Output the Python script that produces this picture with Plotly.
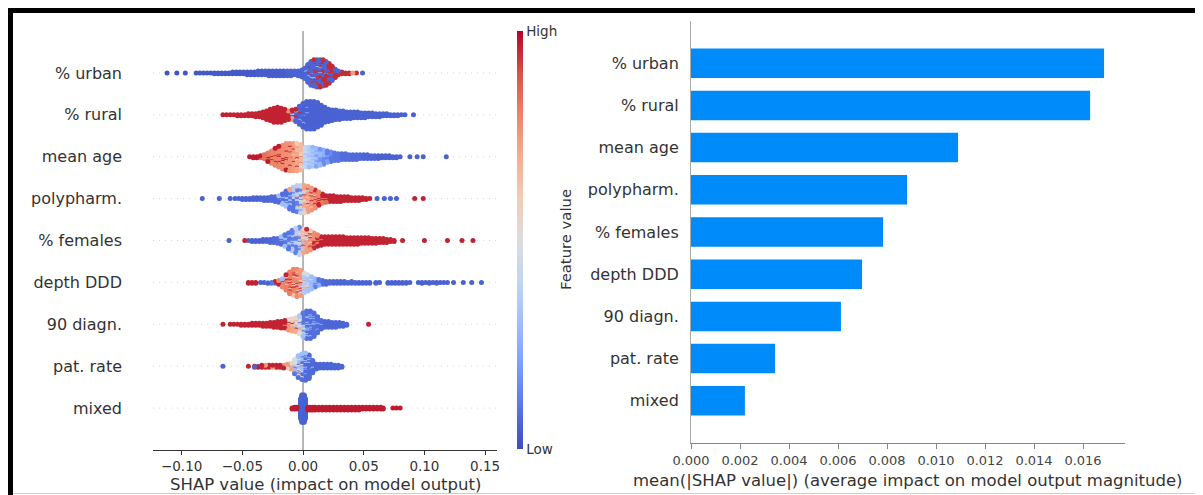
import numpy as np
import plotly.graph_objects as go

# ---------------- data ----------------
features = ["% urban", "% rural", "mean age", "polypharm.", "% females",
            "depth DDD", "90 diagn.", "pat. rate", "mixed"]

mean_abs_shap = [0.01686, 0.01629, 0.0109, 0.00882, 0.00784,
                 0.00698, 0.00612, 0.00343, 0.0022]

shap_tickvals = [-0.10, -0.05, 0.0, 0.05, 0.10, 0.15]
shap_ticktext = ["\u22120.10", "\u22120.05", "0.00", "0.05", "0.10", "0.15"]
bar_tickvals = [0.0, 0.002, 0.004, 0.006, 0.008, 0.010, 0.012, 0.014, 0.016]
bar_ticktext = ["0.000", "0.002", "0.004", "0.006", "0.008", "0.010", "0.012", "0.014", "0.016"]

# beeswarm samples: (SHAP value, feature value 0..1, number of samples)
urban = [
    (-0.112, 0.02, 1), (-0.104, 0.02, 1), (-0.097, 0.02, 1),
    (-0.088, 0.03, 1), (-0.085, 0.03, 1), (-0.082, 0.03, 1), (-0.079, 0.03, 1), (-0.076, 0.03, 1),
    (-0.073, 0.03, 2), (-0.070, 0.03, 2), (-0.067, 0.03, 2), (-0.064, 0.03, 2), (-0.061, 0.03, 2),
    (-0.058, 0.03, 3), (-0.055, 0.03, 3), (-0.052, 0.03, 3), (-0.049, 0.03, 3),
    (-0.046, 0.03, 4), (-0.043, 0.03, 4), (-0.040, 0.03, 4),
    (-0.037, 0.04, 5), (-0.034, 0.04, 5), (-0.031, 0.04, 5),
    (-0.028, 0.04, 6), (-0.025, 0.04, 6), (-0.022, 0.04, 6),
    (-0.019, 0.04, 6), (-0.016, 0.04, 6), (-0.013, 0.05, 6), (-0.010, 0.05, 6),
    (-0.007, 0.05, 5), (-0.004, 0.05, 5), (-0.004, 0.2, 1), (-0.001, 0.05, 7), (-0.001, 0.25, 1),
    (0.0015, 0.06, 10), (0.0015, 0.95, 1), (0.0015, 0.3, 1),
    (0.004, 0.06, 16), (0.004, 0.95, 2), (0.004, 0.3, 2),
    (0.0065, 0.06, 20), (0.0065, 0.95, 4), (0.0065, 0.3, 2),
    (0.009, 0.06, 21), (0.009, 0.95, 6), (0.009, 0.3, 2),
    (0.0115, 0.06, 20), (0.0115, 0.95, 8), (0.0115, 0.3, 2),
    (0.014, 0.06, 18), (0.014, 0.95, 10), (0.014, 0.3, 2),
    (0.0165, 0.06, 16), (0.0165, 0.95, 12), (0.0165, 0.7, 1),
    (0.019, 0.06, 13), (0.019, 0.95, 12), (0.019, 0.3, 1),
    (0.0215, 0.06, 10), (0.0215, 0.95, 12),
    (0.024, 0.06, 6), (0.024, 0.95, 10),
    (0.0265, 0.06, 3), (0.0265, 0.95, 7),
    (0.029, 0.95, 4), (0.029, 0.06, 1),
    (0.032, 0.95, 3), (0.035, 0.95, 2), (0.038, 0.95, 2), (0.041, 0.75, 1), (0.044, 0.95, 1),
    (0.049, 0.05, 1),
]

rural = [
    (-0.066, 0.96, 1), (-0.063, 0.96, 1), (-0.060, 0.96, 1), (-0.057, 0.96, 1),
    (-0.054, 0.96, 2), (-0.051, 0.96, 2), (-0.048, 0.96, 2),
    (-0.045, 0.96, 3), (-0.042, 0.96, 3), (-0.039, 0.96, 4), (-0.036, 0.96, 5),
    (-0.033, 0.96, 7), (-0.030, 0.96, 10), (-0.027, 0.96, 13), (-0.024, 0.96, 16),
    (-0.021, 0.96, 17), (-0.018, 0.96, 16), (-0.015, 0.96, 13),
    (-0.012, 0.96, 8), (-0.012, 0.78, 2),
    (-0.009, 0.96, 5), (-0.009, 0.75, 3), (-0.009, 0.3, 3),
    (-0.006, 0.96, 3), (-0.006, 0.72, 2), (-0.006, 0.06, 9),
    (-0.003, 0.06, 17), (-0.003, 0.96, 2), (-0.003, 0.3, 1),
    (0.000, 0.05, 24), (0.000, 0.3, 2), (0.003, 0.05, 28), (0.003, 0.25, 2),
    (0.006, 0.05, 30), (0.009, 0.05, 30), (0.012, 0.05, 27),
    (0.015, 0.05, 22), (0.018, 0.05, 17), (0.021, 0.05, 14), (0.024, 0.05, 12),
    (0.027, 0.05, 11), (0.030, 0.05, 10), (0.033, 0.05, 9), (0.036, 0.05, 8),
    (0.039, 0.05, 8), (0.042, 0.05, 7), (0.045, 0.05, 7), (0.048, 0.05, 6),
    (0.051, 0.05, 6), (0.054, 0.05, 5), (0.057, 0.05, 5), (0.060, 0.05, 4),
    (0.063, 0.05, 4), (0.066, 0.05, 3), (0.069, 0.05, 3), (0.072, 0.05, 2),
    (0.075, 0.05, 2), (0.078, 0.05, 2), (0.081, 0.05, 1), (0.084, 0.05, 1), (0.091, 0.05, 1),
]

mean_age = [
    (-0.044, 0.97, 1), (-0.041, 0.97, 2), (-0.038, 0.97, 2), (-0.035, 0.97, 2), (-0.035, 0.85, 1),
    (-0.032, 0.84, 4), (-0.032, 0.97, 1),
    (-0.029, 0.82, 7), (-0.029, 0.97, 3),
    (-0.026, 0.8, 11), (-0.026, 0.97, 3),
    (-0.023, 0.8, 15), (-0.023, 0.97, 4),
    (-0.020, 0.79, 19), (-0.020, 0.97, 4),
    (-0.017, 0.78, 22), (-0.017, 0.97, 4),
    (-0.014, 0.77, 25), (-0.014, 0.97, 4),
    (-0.011, 0.76, 26), (-0.011, 0.97, 4),
    (-0.008, 0.74, 26), (-0.008, 0.95, 3), (-0.008, 0.6, 1),
    (-0.005, 0.72, 24), (-0.005, 0.6, 4), (-0.005, 0.95, 2),
    (-0.002, 0.66, 18), (-0.002, 0.55, 8), (-0.002, 0.8, 2),
    (0.002, 0.42, 14), (0.002, 0.35, 8),
    (0.005, 0.38, 14), (0.005, 0.3, 8),
    (0.008, 0.35, 13), (0.008, 0.28, 8),
    (0.011, 0.3, 12), (0.011, 0.22, 8),
    (0.014, 0.28, 10), (0.014, 0.18, 8),
    (0.017, 0.25, 8), (0.017, 0.15, 8),
    (0.020, 0.2, 6), (0.020, 0.12, 7),
    (0.023, 0.15, 5), (0.023, 0.1, 6),
    (0.026, 0.1, 9), (0.029, 0.1, 8), (0.032, 0.08, 7), (0.035, 0.08, 7),
    (0.038, 0.08, 6), (0.041, 0.07, 6), (0.044, 0.07, 6), (0.047, 0.07, 5),
    (0.050, 0.06, 5), (0.053, 0.06, 5), (0.056, 0.06, 4), (0.059, 0.06, 4),
    (0.062, 0.05, 4), (0.065, 0.05, 3), (0.068, 0.05, 3), (0.071, 0.05, 3),
    (0.074, 0.05, 2), (0.077, 0.05, 2), (0.080, 0.05, 1),
    (0.088, 0.05, 1), (0.094, 0.05, 1), (0.099, 0.05, 1), (0.118, 0.05, 1),
]

polypharm = [
    (-0.083, 0.05, 1), (-0.069, 0.05, 1), (-0.060, 0.05, 1),
    (-0.056, 0.05, 1), (-0.053, 0.05, 1), (-0.050, 0.05, 2), (-0.047, 0.05, 2), (-0.044, 0.05, 2),
    (-0.041, 0.05, 3), (-0.038, 0.05, 3), (-0.035, 0.06, 3), (-0.032, 0.06, 4), (-0.029, 0.06, 4),
    (-0.026, 0.07, 5), (-0.023, 0.07, 6),
    (-0.020, 0.07, 6), (-0.020, 0.3, 2),
    (-0.017, 0.08, 8), (-0.017, 0.3, 4),
    (-0.014, 0.08, 11), (-0.014, 0.3, 5), (-0.014, 0.72, 1),
    (-0.011, 0.1, 13), (-0.011, 0.32, 8), (-0.011, 0.72, 1),
    (-0.008, 0.1, 14), (-0.008, 0.35, 10), (-0.008, 0.72, 2),
    (-0.005, 0.12, 14), (-0.005, 0.38, 12), (-0.005, 0.7, 3),
    (-0.002, 0.15, 12), (-0.002, 0.4, 14), (-0.002, 0.55, 4),
    (0.001, 0.72, 16), (0.001, 0.58, 8), (0.001, 0.35, 4), (0.001, 0.95, 2),
    (0.004, 0.74, 18), (0.004, 0.58, 5), (0.004, 0.95, 3), (0.004, 0.35, 2),
    (0.007, 0.76, 17), (0.007, 0.95, 4), (0.007, 0.58, 3),
    (0.010, 0.78, 14), (0.010, 0.95, 5), (0.010, 0.58, 1),
    (0.013, 0.8, 10), (0.013, 0.96, 5),
    (0.016, 0.82, 5), (0.016, 0.96, 6),
    (0.019, 0.96, 6), (0.019, 0.84, 2),
    (0.022, 0.96, 7), (0.025, 0.96, 7), (0.028, 0.96, 6), (0.031, 0.96, 5), (0.031, 0.05, 1),
    (0.034, 0.96, 5), (0.037, 0.96, 5), (0.040, 0.96, 4), (0.043, 0.96, 4),
    (0.046, 0.96, 3), (0.046, 0.05, 1), (0.049, 0.96, 3), (0.052, 0.96, 2), (0.055, 0.96, 1),
    (0.061, 0.05, 1), (0.067, 0.05, 1), (0.072, 0.05, 1), (0.077, 0.05, 1),
    (0.092, 0.96, 1), (0.099, 0.96, 1),
]

females = [
    (-0.061, 0.05, 1), (-0.048, 0.96, 1),
    (-0.045, 0.05, 1), (-0.042, 0.05, 2), (-0.039, 0.05, 2), (-0.036, 0.05, 2),
    (-0.033, 0.05, 3), (-0.030, 0.06, 3), (-0.027, 0.06, 4), (-0.024, 0.07, 5), (-0.021, 0.08, 6),
    (-0.018, 0.08, 7), (-0.018, 0.3, 2),
    (-0.015, 0.1, 9), (-0.015, 0.3, 4),
    (-0.012, 0.1, 12), (-0.012, 0.32, 6),
    (-0.009, 0.12, 14), (-0.009, 0.35, 9),
    (-0.006, 0.12, 14), (-0.006, 0.38, 11), (-0.006, 0.7, 2),
    (-0.003, 0.15, 12), (-0.003, 0.4, 13), (-0.003, 0.55, 3), (-0.003, 0.72, 2),
    (0.000, 0.58, 8), (0.000, 0.72, 10), (0.000, 0.35, 6), (0.000, 0.95, 2),
    (0.003, 0.74, 14), (0.003, 0.58, 6), (0.003, 0.35, 3), (0.003, 0.95, 2),
    (0.006, 0.76, 14), (0.006, 0.95, 4), (0.006, 0.58, 3),
    (0.009, 0.78, 10), (0.009, 0.95, 6), (0.009, 0.58, 1),
    (0.012, 0.8, 6), (0.012, 0.96, 7),
    (0.015, 0.96, 8), (0.015, 0.82, 2),
    (0.018, 0.96, 9), (0.021, 0.96, 9), (0.024, 0.96, 9), (0.027, 0.96, 9),
    (0.030, 0.96, 9), (0.033, 0.96, 9), (0.036, 0.96, 8), (0.039, 0.96, 8),
    (0.042, 0.96, 8), (0.045, 0.96, 8), (0.048, 0.96, 7), (0.051, 0.96, 7),
    (0.054, 0.96, 7), (0.057, 0.96, 6), (0.060, 0.96, 6), (0.063, 0.96, 5),
    (0.066, 0.96, 5), (0.069, 0.96, 4), (0.072, 0.96, 3), (0.075, 0.96, 2),
    (0.082, 0.96, 1), (0.100, 0.96, 1), (0.119, 0.96, 1), (0.131, 0.96, 1), (0.140, 0.96, 1),
]

depth_ddd = [
    (-0.045, 0.96, 2), (-0.042, 0.96, 2), (-0.039, 0.96, 2),
    (-0.035, 0.05, 1), (-0.032, 0.05, 1), (-0.029, 0.05, 1), (-0.029, 0.3, 1), (-0.026, 0.1, 2),
    (-0.023, 0.1, 2), (-0.023, 0.96, 1),
    (-0.020, 0.78, 2), (-0.020, 0.1, 2), (-0.020, 0.96, 1),
    (-0.017, 0.8, 6), (-0.017, 0.96, 2), (-0.017, 0.3, 2),
    (-0.014, 0.81, 12), (-0.014, 0.96, 3), (-0.014, 0.6, 2),
    (-0.011, 0.81, 17), (-0.011, 0.96, 4), (-0.011, 0.6, 3),
    (-0.008, 0.8, 20), (-0.008, 0.96, 5), (-0.008, 0.6, 4),
    (-0.005, 0.79, 20), (-0.005, 0.96, 5), (-0.005, 0.6, 5),
    (-0.002, 0.75, 16), (-0.002, 0.58, 7), (-0.002, 0.96, 3), (-0.002, 0.35, 2),
    (0.001, 0.35, 12), (0.001, 0.48, 6), (0.001, 0.74, 4),
    (0.004, 0.32, 12), (0.004, 0.48, 4), (0.004, 0.74, 2),
    (0.007, 0.3, 11), (0.007, 0.48, 2), (0.007, 0.74, 1),
    (0.010, 0.28, 8), (0.010, 0.12, 2),
    (0.013, 0.25, 4), (0.013, 0.1, 3),
    (0.016, 0.08, 4), (0.016, 0.28, 1),
    (0.019, 0.07, 4), (0.022, 0.07, 3), (0.025, 0.06, 3), (0.028, 0.06, 3),
    (0.031, 0.06, 3), (0.034, 0.06, 3), (0.037, 0.06, 2), (0.040, 0.06, 3),
    (0.043, 0.06, 2), (0.046, 0.05, 2), (0.049, 0.05, 2), (0.052, 0.05, 2),
    (0.055, 0.05, 2), (0.060, 0.05, 2), (0.063, 0.05, 1),
    (0.070, 0.05, 2), (0.073, 0.05, 2), (0.076, 0.05, 2), (0.079, 0.05, 2),
    (0.082, 0.05, 2), (0.085, 0.05, 2), (0.088, 0.05, 1),
    (0.095, 0.05, 1), (0.098, 0.05, 2), (0.101, 0.05, 1), (0.104, 0.05, 2),
    (0.107, 0.05, 1), (0.110, 0.05, 2), (0.113, 0.05, 1), (0.116, 0.05, 1),
    (0.119, 0.05, 1), (0.124, 0.05, 1),
    (0.132, 0.05, 1), (0.139, 0.05, 1), (0.147, 0.05, 1),
]

diagn_90 = [
    (-0.066, 0.96, 1), (-0.060, 0.96, 1), (-0.057, 0.96, 1), (-0.054, 0.96, 1),
    (-0.051, 0.96, 2), (-0.048, 0.96, 2), (-0.045, 0.96, 2), (-0.042, 0.96, 3),
    (-0.039, 0.96, 3), (-0.036, 0.96, 3), (-0.033, 0.96, 4), (-0.030, 0.96, 4),
    (-0.027, 0.96, 5), (-0.024, 0.96, 6), (-0.021, 0.96, 7),
    (-0.018, 0.96, 7), (-0.018, 0.8, 1),
    (-0.015, 0.96, 6), (-0.015, 0.78, 3),
    (-0.012, 0.76, 6), (-0.012, 0.96, 3), (-0.012, 0.55, 3),
    (-0.009, 0.72, 6), (-0.009, 0.55, 5), (-0.009, 0.96, 2), (-0.009, 0.35, 1),
    (-0.006, 0.55, 7), (-0.006, 0.7, 4), (-0.006, 0.35, 4), (-0.006, 0.96, 1),
    (-0.003, 0.5, 8), (-0.003, 0.35, 7), (-0.003, 0.7, 3), (-0.003, 0.12, 2),
    (0.000, 0.1, 14), (0.000, 0.3, 8), (0.000, 0.5, 4),
    (0.003, 0.08, 20), (0.003, 0.3, 10),
    (0.006, 0.08, 22), (0.006, 0.28, 8),
    (0.009, 0.08, 20), (0.009, 0.25, 6),
    (0.012, 0.08, 15), (0.012, 0.25, 3),
    (0.015, 0.07, 9), (0.015, 0.25, 1),
    (0.018, 0.06, 7), (0.021, 0.06, 7), (0.024, 0.06, 6), (0.027, 0.06, 6),
    (0.030, 0.06, 5), (0.033, 0.06, 4), (0.036, 0.06, 2),
    (0.054, 0.96, 1),
]

pat_rate = [
    (-0.066, 0.05, 1), (-0.045, 0.96, 1),
    (-0.040, 0.96, 1), (-0.040, 0.05, 1), (-0.037, 0.96, 1), (-0.037, 0.08, 1),
    (-0.034, 0.96, 3), (-0.031, 0.96, 2), (-0.031, 0.75, 1), (-0.028, 0.96, 3),
    (-0.025, 0.96, 2), (-0.025, 0.75, 1), (-0.022, 0.96, 3), (-0.019, 0.96, 2),
    (-0.019, 0.1, 1), (-0.016, 0.96, 2), (-0.016, 0.75, 2),
    (-0.013, 0.75, 2), (-0.013, 0.96, 2), (-0.013, 0.55, 1),
    (-0.010, 0.72, 3), (-0.010, 0.55, 2), (-0.010, 0.3, 2),
    (-0.007, 0.5, 6), (-0.007, 0.3, 6), (-0.007, 0.72, 2), (-0.007, 0.1, 2),
    (-0.004, 0.3, 10), (-0.004, 0.5, 7), (-0.004, 0.08, 5), (-0.004, 0.7, 2),
    (-0.001, 0.3, 12), (-0.001, 0.08, 12), (-0.001, 0.5, 4),
    (0.002, 0.07, 22), (0.002, 0.3, 8),
    (0.005, 0.07, 22), (0.005, 0.3, 4),
    (0.008, 0.07, 13), (0.008, 0.3, 1),
    (0.011, 0.06, 6), (0.014, 0.06, 5), (0.017, 0.06, 5), (0.020, 0.06, 5),
    (0.023, 0.06, 5), (0.026, 0.06, 4), (0.029, 0.06, 4), (0.032, 0.06, 2),
]

mixed = [
    (-0.009, 0.97, 2), (-0.007, 0.97, 3), (-0.005, 0.97, 3),
    (-0.002, 0.05, 22), (-0.001, 0.05, 30), (0.000, 0.05, 30), (0.001, 0.05, 30), (0.002, 0.05, 22),
    (0.004, 0.97, 4), (0.006, 0.97, 4), (0.008, 0.97, 4), (0.010, 0.97, 4), (0.013, 0.97, 4),
    (0.016, 0.97, 4), (0.019, 0.97, 4), (0.022, 0.97, 4), (0.025, 0.97, 4), (0.028, 0.97, 4),
    (0.031, 0.97, 4), (0.034, 0.97, 4), (0.037, 0.97, 4), (0.040, 0.97, 4), (0.043, 0.97, 4),
    (0.046, 0.97, 4), (0.049, 0.97, 3), (0.052, 0.97, 3), (0.055, 0.97, 3), (0.058, 0.97, 3),
    (0.061, 0.97, 3), (0.064, 0.97, 3), (0.066, 0.97, 2),
    (0.074, 0.97, 1), (0.077, 0.97, 1), (0.080, 0.97, 1),
]

rows = [urban, rural, mean_age, polypharm, females, depth_ddd, diagn_90, pat_rate, mixed]

# ---------------- layout helpers ----------------
# the page body adds an 8 px offset; screen pixel s sits at figure pixel s - 8
OFF = 8
W, H = 1195, 487


def px(s):
    return (s - OFF) / W


def py(s):
    return 1 - (s - OFF) / H


coolwarm = [[0.0, "#3b4cc0"], [0.1, "#5977e3"], [0.2, "#7b9ff9"], [0.3, "#9ebeff"],
            [0.4, "#c0d4f5"], [0.5, "#dddcdc"], [0.6, "#f2cbb7"], [0.7, "#f7ac8e"],
            [0.8, "#ee8468"], [0.9, "#d65244"], [1.0, "#b40426"]]


def beeswarm(xs, nbins=100, row_height=0.4):
    """shap-style vertical stacking of points that share an x bin."""
    xs = np.asarray(xs, dtype=float)
    n = len(xs)
    quant = np.round(nbins * (xs - xs.min()) / (xs.max() - xs.min() + 1e-8))
    key = (np.arange(n) * 0.6180339887) % 1.0
    inds = np.lexsort((key, quant))
    ys = np.zeros(n)
    layer, last = 0, None
    for ind in inds:
        if quant[ind] != last:
            layer = 0
        ys[ind] = np.ceil(layer / 2) * ((layer % 2) * 2 - 1)
        layer += 1
        last = quant[ind]
    ys *= 0.9 * (row_height / np.max(ys + 1))
    return ys


all_x, all_y, all_c = [], [], []
for i, row in enumerate(rows):
    xs, cs = [], []
    for sv, fv, cnt in row:
        xs += [sv] * cnt
        cs += [fv] * cnt
    xs = np.array(xs)
    cs = np.array(cs)
    ys = beeswarm(xs) + i
    order = np.argsort((np.arange(len(xs)) * 0.6180339887) % 1.0)
    all_x += list(xs[order])
    all_y += list(ys[order])
    all_c += list(cs[order])

FONT = "DejaVu Sans"
TXT = "#333333"

fig = go.Figure()
fig.add_trace(go.Scatter(
    x=all_x, y=all_y, mode="markers", xaxis="x", yaxis="y",
    hoverinfo="skip", showlegend=False,
    marker=dict(
        color=all_c, colorscale=coolwarm, cmin=0, cmax=1, size=5,
        line=dict(width=0), showscale=True,
        colorbar=dict(
            x=px(517), xanchor="left", xpad=0,
            y=py(31), yanchor="top", ypad=0,
            len=418, lenmode="pixels", thickness=6, thicknessmode="pixels",
            outlinewidth=0, tickvals=[0, 1], ticktext=["Low", "High"], ticks="",
            tickfont=dict(family=FONT, size=13.5, color=TXT),
        ),
    ),
))

fig.add_trace(go.Bar(
    x=mean_abs_shap, y=list(range(len(features))), orientation="h",
    xaxis="x2", yaxis="y2", width=0.7, showlegend=False, hoverinfo="skip",
    marker=dict(color="#008bfb", line=dict(width=0)),
))

shapes = []
# dotted row guides and zero line (left panel)
for i in range(len(features)):
    shapes.append(dict(type="line", xref="x", yref="y", x0=-0.1236, x1=0.1598, y0=i, y1=i,
                       line=dict(color="#cccccc", width=0.8, dash="1px,5px"), layer="below"))
shapes.append(dict(type="line", xref="x", yref="y", x0=0, x1=0, y0=-1, y1=9,
                   line=dict(color="#999999", width=1.4), layer="below"))
# picture frame
shapes.append(dict(type="rect", xref="paper", yref="paper", x0=px(8), x1=px(1203), y0=py(13), y1=py(8),
                   fillcolor="black", line=dict(width=0)))
shapes.append(dict(type="rect", xref="paper", yref="paper", x0=px(8), x1=px(13), y0=py(495), y1=py(8),
                   fillcolor="black", line=dict(width=0)))
shapes.append(dict(type="line", xref="paper", yref="paper", x0=px(1200.5), x1=px(1200.5), y0=py(493), y1=py(13),
                   line=dict(color="#d0d0d0", width=1)))
shapes.append(dict(type="line", xref="paper", yref="paper", x0=px(13), x1=px(1200.5), y0=py(493.5), y1=py(493.5),
                   line=dict(color="#d0d0d0", width=1)))

annotations = [
    dict(text="SHAP value (impact on model output)", xref="paper", yref="paper",
         x=px(325), y=py(484), xanchor="center", yanchor="middle", showarrow=False,
         font=dict(family=FONT, size=16.5, color=TXT)),
    dict(text="mean(|SHAP value|) (average impact on model output magnitude)", xref="paper", yref="paper",
         x=px(908), y=py(480), xanchor="center", yanchor="middle", showarrow=False,
         font=dict(family=FONT, size=16.5, color=TXT)),
    dict(text="Feature value", xref="paper", yref="paper", x=px(566), y=py(240),
         xanchor="center", yanchor="middle", showarrow=False, textangle=-90,
         font=dict(family=FONT, size=14.8, color=TXT)),
]

fig.update_layout(
    width=W, height=H, autosize=False,
    margin=dict(l=0, r=0, t=0, b=0, pad=0, autoexpand=False),
    paper_bgcolor="white", plot_bgcolor="rgba(0,0,0,0)",
    font=dict(family=FONT, color=TXT),
    showlegend=False,
    xaxis=dict(domain=[px(153), px(497)], range=[-0.1236, 0.1598], anchor="y", automargin=False,
               showgrid=False, zeroline=False, showline=True, linecolor="#333333", linewidth=1,
               ticks="outside", ticklen=4, tickwidth=1, tickcolor="#333333",
               tickvals=shap_tickvals, ticktext=shap_ticktext,
               tickfont=dict(family=FONT, size=13.5, color=TXT)),
    yaxis=dict(domain=[py(450), py(31)], range=[9, -1], anchor="x", automargin=False,
               showgrid=False, zeroline=False, showline=False, ticks="",
               tickvals=list(range(len(features))), ticktext=features, ticklabelstandoff=30,
               tickfont=dict(family=FONT, size=16, color=TXT)),
    xaxis2=dict(domain=[px(691), px(1125)], range=[0, 0.017714], anchor="y2", automargin=False,
                showgrid=False, zeroline=False, showline=True, linecolor="#888888", linewidth=1,
                ticks="outside", ticklen=5, tickwidth=1, tickcolor="#888888",
                tickvals=bar_tickvals, ticktext=bar_ticktext,
                tickfont=dict(family=FONT, size=13, color="#444444")),
    yaxis2=dict(domain=[py(443), py(21)], range=[9, -1], anchor="x2", automargin=False,
                showgrid=False, zeroline=False, showline=True, linecolor="#aaaaaa", linewidth=1,
                ticks="", tickvals=list(range(len(features))), ticktext=features, ticklabelstandoff=8,
                tickfont=dict(family=FONT, size=16, color=TXT)),
    shapes=shapes,
    annotations=annotations,
)

fig.write_html("out.html")
